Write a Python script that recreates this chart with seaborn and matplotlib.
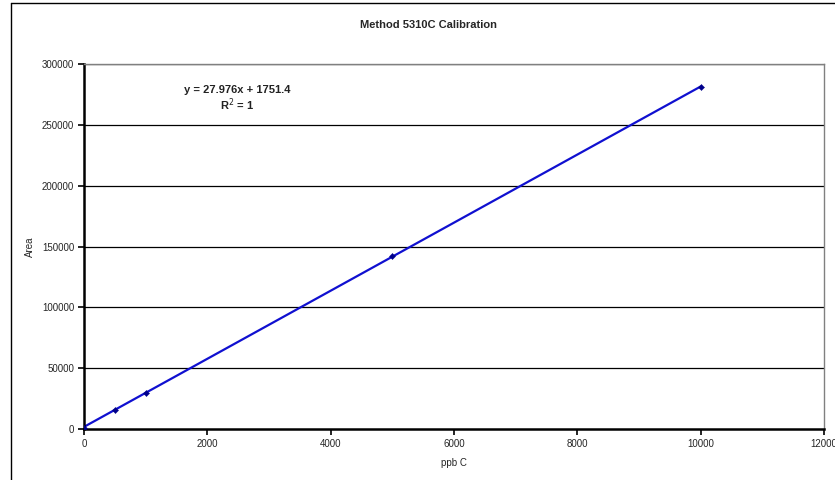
import matplotlib
matplotlib.use("Agg")
import matplotlib.pyplot as plt
import seaborn as sns
import numpy as np
import pandas as pd
from matplotlib.lines import Line2D

sns.set_theme(style="white")
plt.rcParams['font.family'] = ['Liberation Sans', 'DejaVu Sans']

# Data
conc_ppb = [0, 500, 1000, 5000, 10000]
area = [1200, 15700, 29700, 142500, 281000]
slope = 27.976
intercept = 1751.4
x_ticks = [0, 2000, 4000, 6000, 8000, 10000, 12000]
y_ticks = [0, 50000, 100000, 150000, 200000, 250000, 300000]
title = "Method 5310C Calibration"
eq_text = "y = 27.976x + 1751.4"
r2_text = "R$^{2}$ = 1"

df = pd.DataFrame({"ppb C": conc_ppb, "Area": area})
fit_x = [0, 10000]
fit_df = pd.DataFrame({"ppb C": fit_x, "Area": [slope * v + intercept for v in fit_x]})

fig = plt.figure(figsize=(8.35, 4.8), dpi=100)
ax = fig.add_axes([84/835, 1-429/480, (824-84)/835, (429-64)/480])

sns.lineplot(data=fit_df, x="ppb C", y="Area", ax=ax, color="#1010d0", linewidth=1.6)
sns.scatterplot(data=df, x="ppb C", y="Area", ax=ax, color="#00008b", marker="D", s=10,
                edgecolor="#00008b", zorder=5)

ax.set_xlim(0, 12000)
ax.set_ylim(0, 300000)
ax.set_xticks(x_ticks)
ax.set_yticks(y_ticks)
ax.set_xticklabels([str(v) for v in x_ticks], fontsize=7)
ax.set_yticklabels([str(v) for v in y_ticks], fontsize=7)
ax.tick_params(axis='both', direction='out', length=4, width=1.2, color='black', pad=3,
               bottom=True, left=True)

for v in y_ticks[1:]:
    ax.axhline(v, color='black', linewidth=0.9, zorder=0)

for s in ['left', 'bottom']:
    ax.spines[s].set_color('black')
    ax.spines[s].set_linewidth(1.8)
for s in ['top', 'right']:
    ax.spines[s].set_color('#808080')
    ax.spines[s].set_linewidth(1.0)

ax.set_xlabel("ppb C", fontsize=7, labelpad=7)
ax.set_ylabel("Area", fontsize=7)
ax.yaxis.set_label_coords((35 - 84) / 740, 0.5)

fig.text(428/835, 1-25/480, title, ha='center', va='center', fontsize=8, fontweight='bold')
fig.text(237/835, 1-90/480, eq_text, ha='center', va='center', fontsize=8, fontweight='bold', color='#222222')
fig.text(237/835, 1-105/480, r2_text, ha='center', va='center', fontsize=8, fontweight='bold', color='#222222')

# outer chart border
fig.add_artist(Line2D([11/835, 11/835], [0, 1-3/480], transform=fig.transFigure, color='black', linewidth=1))
fig.add_artist(Line2D([11/835, 1], [1-3/480, 1-3/480], transform=fig.transFigure, color='black', linewidth=1))

fig.savefig("out.png", dpi=100)
